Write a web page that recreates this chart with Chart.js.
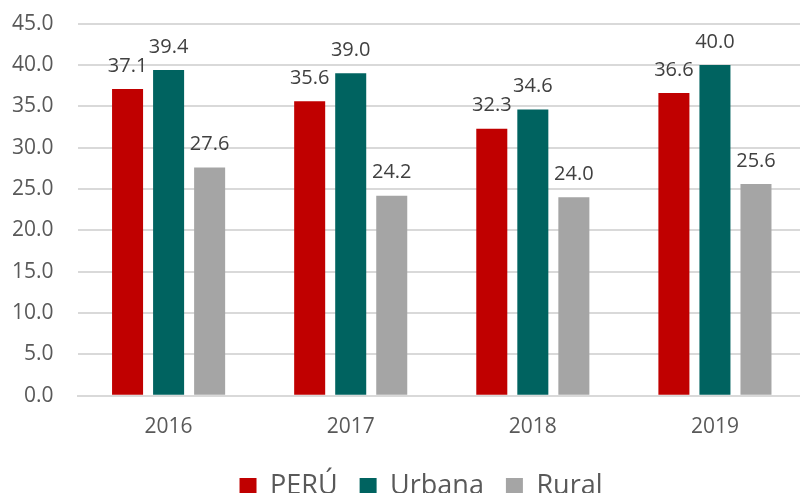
<!DOCTYPE html>
<html>
<head>
<meta charset="utf-8">
<script src="https://cdn.jsdelivr.net/npm/chart.js"></script>
<style>
  html, body { margin: 0; padding: 0; background: #fff; overflow: hidden; width: 800px; height: 493px; }
  canvas { display: block; margin-left: -20px; margin-top: -13px; }
</style>
</head>
<body>
<canvas id="chart" width="826" height="531"></canvas>
<script>
const years = ["2016", "2017", "2018", "2019"];
const peru = [37.1, 35.6, 32.3, 36.6];
const urbana = [39.4, 39.0, 34.6, 40.0];
const rural = [27.6, 24.2, 24.0, 25.6];
const yTicks = [0, 5, 10, 15, 20, 25, 30, 35, 40, 45];

const FONT = "'Open Sans', sans-serif";

// small inline label plugin, no datalabels plugin available offline
const valueLabels = {
  id: 'valueLabels',
  afterDatasetsDraw(chart) {
    const ctx = chart.ctx;
    ctx.save();
    ctx.font = "20px " + FONT;
    ctx.fillStyle = "#404040";
    ctx.textAlign = "center";
    ctx.textBaseline = "bottom";
    chart.data.datasets.forEach((ds, i) => {
      chart.getDatasetMeta(i).data.forEach((bar, j) => {
        ctx.fillText(ds.data[j].toFixed(1), bar.x, bar.y - 13);
      });
    });
    ctx.restore();
  }
};

// nudge the legend: a bit up, and right like the excel original
const legendShift = {
  id: 'legendShift',
  afterLayout(chart) {
    const lg = chart.legend;
    lg.top -= 8;
    lg.bottom -= 8;
    lg.left += 24;
    lg.right += 24;
  }
};

new Chart(document.getElementById("chart").getContext("2d"), {
  type: 'bar',
  data: {
    labels: years,
    datasets: [
      { label: 'PERÚ', data: peru, backgroundColor: '#c00000' },
      { label: 'Urbana', data: urbana, backgroundColor: '#006360' },
      { label: 'Rural', data: rural, backgroundColor: '#a5a5a5' }
    ]
  },
  options: {
    responsive: false,
    animation: false,
    layout: { padding: { left: 8, top: 0, right: 0, bottom: 0 } },
    datasets: {
      bar: { categoryPercentage: 0.676, barPercentage: 0.756 }
    },
    plugins: {
      legend: {
        position: 'bottom',
        labels: {
          color: '#595959',
          font: { family: FONT, size: 27 },
          boxWidth: 17,
          boxHeight: 17,
          padding: 22
        }
      },
      tooltip: { enabled: false }
    },
    scales: {
      x: {
        grid: { display: false, drawTicks: false },
        border: { color: '#d9d9d9', width: 2 },
        ticks: { color: '#595959', font: { family: FONT, size: 21 }, padding: 19 }
      },
      y: {
        min: 0,
        max: 45,
        afterBuildTicks: axis => { axis.ticks = yTicks.map(v => ({ value: v })); },
        grid: { color: '#d9d9d9', lineWidth: 2, drawTicks: false },
        border: { display: false },
        ticks: {
          color: '#595959',
          font: { family: FONT, size: 21 },
          padding: 24,
          callback: v => v.toFixed(1)
        }
      }
    }
  },
  plugins: [valueLabels, legendShift]
});
</script>
</body>
</html>
